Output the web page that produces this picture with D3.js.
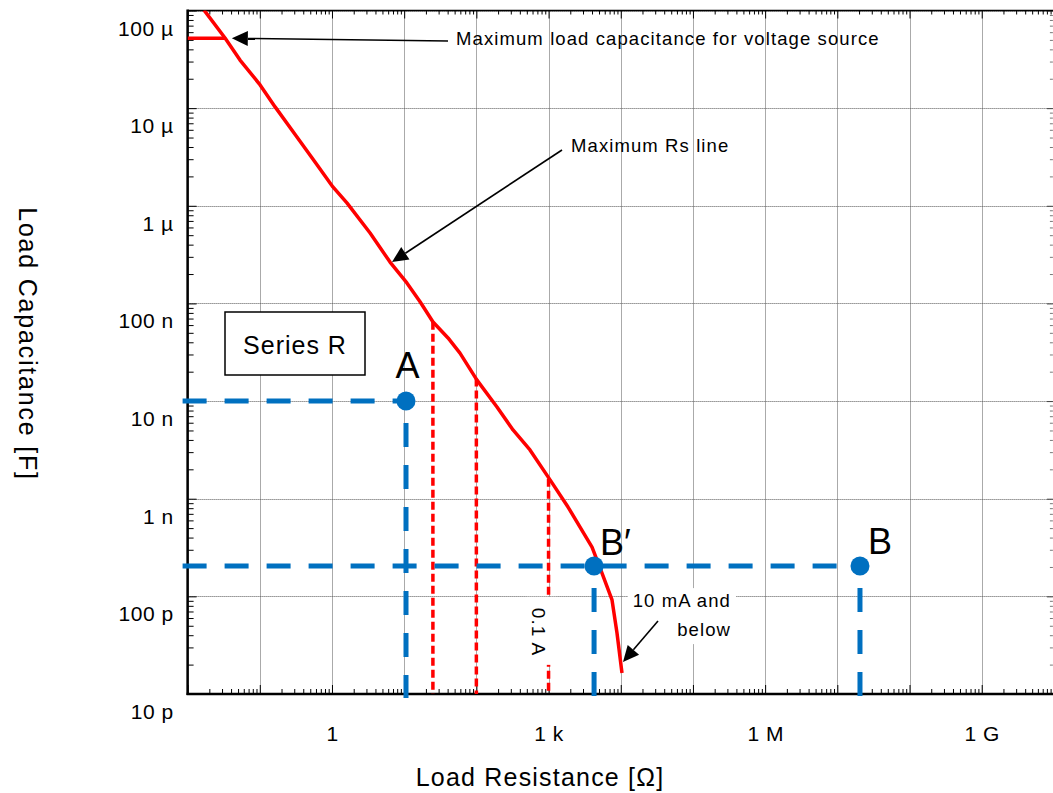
<!DOCTYPE html>
<html><head><meta charset="utf-8">
<script src="https://cdn.jsdelivr.net/npm/d3@7"></script>
<style>
body{margin:0;background:#fff;overflow:hidden}
text{font-family:"Liberation Sans",Arial,sans-serif;fill:#000}
</style>
</head><body>
<svg id="chart" width="1053" height="793"></svg>
<script>
// ---------- data ----------
const xDomain = [1e-2, 1e10];           // Load resistance [Ω]
const yDomain = [1e-11, 1e-4];          // Load capacitance [F]
const xLabelValues = [1, 1e3, 1e6, 1e9];
const xLabels = ["1", "1 k", "1 M", "1 G"];
const yLabelValues = [1e-4, 1e-5, 1e-6, 1e-7, 1e-8, 1e-9, 1e-10, 1e-11];
const yLabels = ["100 µ", "10 µ", "1 µ", "100 n", "10 n", "1 n", "100 p", "10 p"];

// Maximum Rs line
const rsLineR = [0.0169, 0.033, 0.0532, 0.101, 0.163, 0.327, 0.582, 1.03, 1.61, 3.37, 6.37, 10.9, 16.6, 25.1,
                 40.5, 59.3, 102, 193, 322, 553, 1050, 1860, 4000, 5500, 7570, 8870, 10400];
const rsLineC = [1.01e-4, 5.22e-5, 3.11e-5, 1.73e-5, 1.03e-5, 5.06e-6, 2.81e-6, 1.56e-6, 1.07e-6, 5.26e-7,
                 2.65e-7, 1.62e-7, 1.04e-7, 6.46e-8, 4.43e-8, 3.10e-8, 1.64e-8, 8.69e-9, 5.06e-9, 3.16e-9,
                 1.56e-9, 8.22e-10, 3.20e-10, 1.73e-10, 9.18e-11, 4.22e-11, 1.64e-11];
// Maximum load capacitance for voltage source
const vSourceR = [0.01, 0.033];
const vSourceC = [5.2e-5, 5.2e-5];
// current-limit verticals (red dashed)
const limitR = [25, 100, 1000];
const limitCTop = [6.5e-8, 1.7e-8, 1.6e-9];
// operating points
const pointNames = ["A", "B′", "B"];
const pointR = [10.6, 4270, 2.06e7];
const pointC = [1e-8, 2.05e-10, 2.05e-10];
// annotation arrows (tail -> tip) in data space
const arrowText = ["Maximum load capacitance for voltage source", "Maximum Rs line", "10 mA and|below"];
const arrowTailR = [40.5, 1535, 32800];
const arrowTailC = [4.87e-5, 3.73e-6, 5.58e-11];
const arrowTipR = [0.041, 6.78, 10740];
const arrowTipC = [5.2e-5, 2.65e-7, 2.13e-11];

// ---------- layout ----------
const svg = d3.select("#chart");
const pL = 187.6, pR = 1053.9, pT = 10.5, pB = 694;
const x = d3.scaleLog().domain(xDomain).range([pL, pR]);
const y = d3.scaleLog().domain(yDomain).range([pB, pT]);

function decades(d) {
  const out = [];
  for (let e = Math.round(Math.log10(d[0])); e <= Math.round(Math.log10(d[1])); e++) out.push(Math.pow(10, e));
  return out;
}
function minors(d) {
  const out = [];
  for (let e = Math.round(Math.log10(d[0])); e < Math.round(Math.log10(d[1])); e++)
    for (let k = 2; k <= 9; k++) out.push(k * Math.pow(10, e));
  return out;
}
const xMaj = decades(xDomain), yMaj = decades(yDomain);
const xMin = minors(xDomain), yMin = minors(yDomain);

svg.append("defs").append("clipPath").attr("id", "plot")
  .append("rect").attr("x", pL).attr("y", pT).attr("width", pR - pL).attr("height", pB - pT);

// grid
const grid = svg.append("g").attr("stroke", "#555").attr("stroke-width", 1).attr("stroke-dasharray", "1,1");
grid.selectAll(".gx").data(xMaj).join("line")
  .attr("x1", d => Math.round(x(d)) + 0.5).attr("x2", d => Math.round(x(d)) + 0.5)
  .attr("y1", pT).attr("y2", pB);
grid.selectAll(".gy").data(yMaj).join("line")
  .attr("y1", d => Math.round(y(d)) + 0.5).attr("y2", d => Math.round(y(d)) + 0.5)
  .attr("x1", pL).attr("x2", pR);

// tick marks via d3 axes
function tickAxis(axisFn, scale, vals, size, transform, color) {
  const g = svg.append("g").attr("transform", transform)
    .call(axisFn(scale).tickValues(vals).tickSize(size).tickSizeOuter(0).tickFormat(""));
  g.select(".domain").remove();
  g.selectAll("line").attr("stroke", color).attr("stroke-width", 1);
  return g;
}
tickAxis(d3.axisBottom, x, xMin, -5, `translate(0,${pB})`, "#000");
tickAxis(d3.axisBottom, x, xMaj, -9, `translate(0,${pB})`, "#000");
tickAxis(d3.axisTop, x, xMin, -4, `translate(0,${pT})`, "#000");
tickAxis(d3.axisTop, x, xMaj, -8, `translate(0,${pT})`, "#000");
tickAxis(d3.axisLeft, y, yMin, -6, `translate(${pL},0)`, "#000");
tickAxis(d3.axisLeft, y, yMaj, -9, `translate(${pL},0)`, "#000");
tickAxis(d3.axisRight, y, yMin, -3, `translate(${pR - 1},0)`, "#777");
tickAxis(d3.axisRight, y, yMaj, -6, `translate(${pR - 1},0)`, "#444");

// frame
svg.append("line").attr("x1", pL).attr("x2", pR).attr("y1", pT).attr("y2", pT).attr("stroke", "#000").attr("stroke-width", 1.5);
svg.append("line").attr("x1", pL).attr("x2", pL).attr("y1", pT - 1).attr("y2", pB + 1).attr("stroke", "#000").attr("stroke-width", 2.5);
svg.append("line").attr("x1", pL - 1).attr("x2", pR).attr("y1", pB).attr("y2", pB).attr("stroke", "#000").attr("stroke-width", 2.5);

// axis labels via d3 axes
const yAx = svg.append("g").attr("transform", `translate(${pL},0)`)
  .call(d3.axisLeft(y).tickValues(yLabelValues).tickFormat((d, i) => yLabels[i]).tickSize(0).tickPadding(14));
yAx.select(".domain").remove();
yAx.selectAll("text").attr("dy", 24.5).attr("font-size", 21).attr("letter-spacing", 0.5)
  .style("font-family", '"Liberation Sans",Arial,sans-serif').attr("fill", "#000");

const xAx = svg.append("g").attr("transform", `translate(0,${pB})`)
  .call(d3.axisBottom(x).tickValues(xLabelValues).tickFormat((d, i) => xLabels[i]).tickSize(0).tickPadding(0));
xAx.select(".domain").remove();
xAx.selectAll("text").attr("dy", 0).attr("y", 47).attr("font-size", 21).attr("letter-spacing", 0.5)
  .style("font-family", '"Liberation Sans",Arial,sans-serif').attr("fill", "#000");

svg.append("text").attr("x", 540).attr("y", 786).attr("text-anchor", "middle")
  .attr("font-size", 25).attr("letter-spacing", 1.2).text("Load Resistance [Ω]");
svg.append("text").attr("transform", "translate(19,344) rotate(90)").attr("text-anchor", "middle")
  .attr("font-size", 25).attr("letter-spacing", 1.8).text("Load Capacitance [F]");

const plot = svg.append("g").attr("clip-path", "url(#plot)");

// red dashed current-limit verticals
plot.selectAll(".lim").data(limitR).join("line")
  .attr("x1", d => x(d)).attr("x2", d => x(d))
  .attr("y1", (d, i) => y(limitCTop[i])).attr("y2", pB)
  .attr("stroke", "#ff0000").attr("stroke-width", 3.5).attr("stroke-dasharray", "8,4");

// white label boxes
const lx = x(limitR[2]);
svg.append("rect").attr("x", lx - 22).attr("y", y(1e-10) + 0.5).attr("width", 30).attr("height", 68).attr("fill", "#fff");
svg.append("text").attr("transform", `translate(${lx - 17},632) rotate(90)`).attr("text-anchor", "middle")
  .attr("font-size", 19).attr("letter-spacing", 1).text("0.1 A");
const tailX = x(arrowTailR[2]), tailY = y(arrowTailC[2]);
svg.append("rect").attr("x", tailX - 30).attr("y", tailY - 33).attr("width", 108).attr("height", 56).attr("fill", "#fff");

// blue guide lines
const blue = "#0070C0";
const guides = svg.append("g").attr("stroke", blue).attr("stroke-width", 5).attr("stroke-dasharray", "24,18").attr("fill", "none");
const hGuide = [0, 2]; // A and B horizontal lines (B' lies on B's line)
guides.selectAll(".h").data(hGuide).join("line")
  .attr("x1", pL - 5).attr("x2", i => x(pointR[i]))
  .attr("y1", i => y(pointC[i])).attr("y2", i => y(pointC[i]));
guides.selectAll(".v").data([0, 1, 2]).join("line")
  .attr("x1", i => x(pointR[i])).attr("x2", i => x(pointR[i]))
  .attr("y1", i => y(pointC[i]) + 22).attr("y2", pB + 4);

// red curves
const line = d3.line().x(d => x(d[0])).y(d => y(d[1]));
plot.append("path").datum(rsLineR.map((r, i) => [r, rsLineC[i]])).attr("d", line)
  .attr("fill", "none").attr("stroke", "#ff0000").attr("stroke-width", 3.5).attr("stroke-linejoin", "round");
plot.append("path").datum(vSourceR.map((r, i) => [r, vSourceC[i]])).attr("d", line)
  .attr("fill", "none").attr("stroke", "#ff0000").attr("stroke-width", 3.5);

// points
svg.selectAll(".pt").data(pointR).join("circle")
  .attr("cx", d => x(d)).attr("cy", (d, i) => y(pointC[i])).attr("r", 9.5).attr("fill", blue);
const ptDx = [1.5, 6, 8], ptDy = [-23, -11, -12], ptAnchor = ["middle", "start", "start"];
svg.selectAll(".ptl").data(pointNames).join("text")
  .attr("x", (d, i) => x(pointR[i]) + ptDx[i]).attr("y", (d, i) => y(pointC[i]) + ptDy[i])
  .attr("text-anchor", (d, i) => ptAnchor[i]).attr("font-size", 36).text(d => d);

// Series R box
svg.append("rect").attr("x", 225).attr("y", 312).attr("width", 140).attr("height", 63)
  .attr("fill", "#fff").attr("stroke", "#000").attr("stroke-width", 1.5);
svg.append("text").attr("x", 295).attr("y", 354).attr("text-anchor", "middle")
  .attr("font-size", 25).attr("letter-spacing", 1).text("Series R");

// annotation arrows
function arrow(x1, y1, x2, y2, len, hw) {
  const a = Math.atan2(y2 - y1, x2 - x1);
  const bx = x2 - len * Math.cos(a), by = y2 - len * Math.sin(a);
  svg.append("line").attr("x1", x1).attr("y1", y1).attr("x2", bx).attr("y2", by)
    .attr("stroke", "#000").attr("stroke-width", 1.6);
  const p = [[x2, y2], [bx + hw * Math.sin(a), by - hw * Math.cos(a)], [bx - hw * Math.sin(a), by + hw * Math.cos(a)]];
  svg.append("polygon").attr("points", p.map(q => q.join(",")).join(" ")).attr("fill", "#000");
}
arrowText.forEach((t, i) => {
  arrow(x(arrowTailR[i]), y(arrowTailC[i]), x(arrowTipR[i]), y(arrowTipC[i]), 16, 7.5);
});
svg.append("text").attr("x", x(arrowTailR[0]) + 8).attr("y", y(arrowTailC[0]) + 4)
  .attr("font-size", 18.5).attr("letter-spacing", 1.1).text(arrowText[0]);
svg.append("text").attr("x", x(arrowTailR[1]) + 9).attr("y", y(arrowTailC[1]) + 2)
  .attr("font-size", 18.5).attr("letter-spacing", 1.1).text(arrowText[1]);
arrowText[2].split("|").forEach((t, k) => {
  svg.append("text").attr("x", tailX + 73).attr("y", tailY - 14 + k * 29)
    .attr("text-anchor", "end").attr("font-size", 18.5).attr("letter-spacing", 1.1).text(t);
});
</script>
</body></html>
